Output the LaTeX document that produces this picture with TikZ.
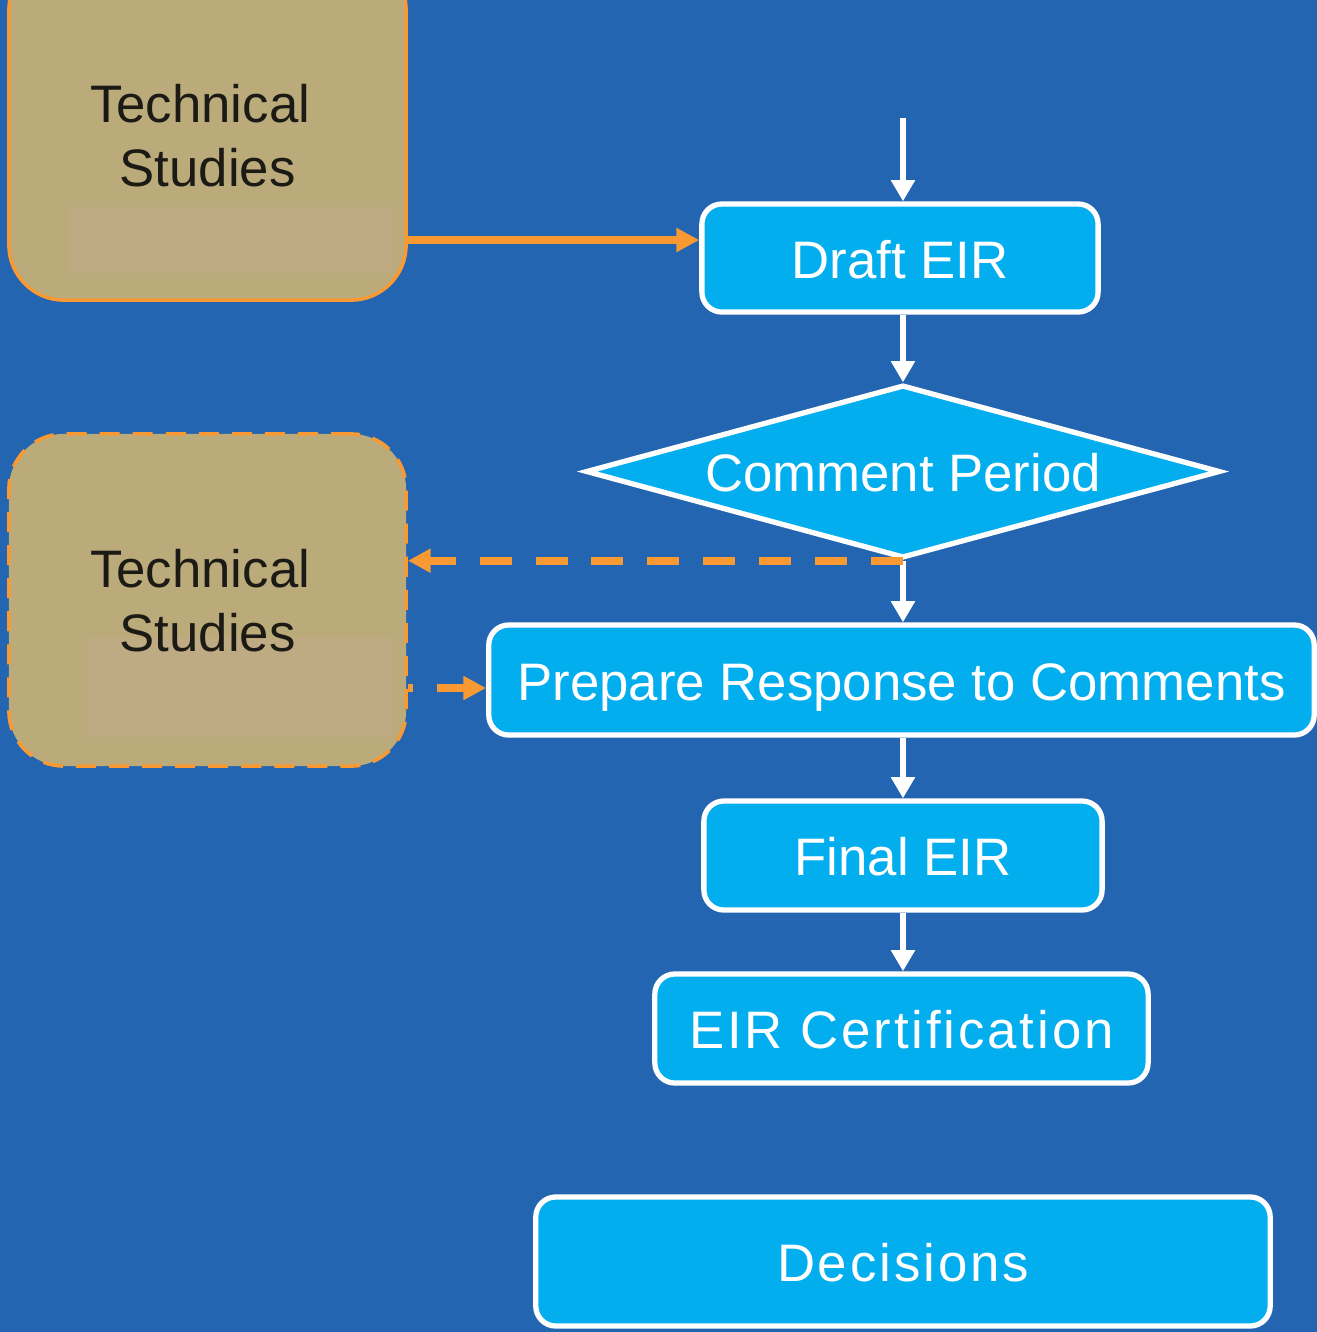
\documentclass[tikz,border=0pt]{standalone}
\usepackage{fontspec}
\setmainfont{Liberation Sans}
\newfontfamily\spacedfont[LetterSpace=5.5]{Liberation Sans}
\usetikzlibrary{shapes.geometric,arrows.meta}

\definecolor{bgblue}{RGB}{35,101,176}
\definecolor{boxcyan}{RGB}{3,174,239}
\definecolor{studytan}{RGB}{187,171,123}
\definecolor{studylight}{RGB}{191,171,131}
\definecolor{studyink}{RGB}{28,26,20}
\definecolor{flow}{RGB}{248,153,51}

\begin{document}
\begin{tikzpicture}[x=0.01cm,y=-0.01cm,
   every node/.style={font=\fontsize{15}{18.2}\selectfont},
   stepbox/.style={draw=white,line width=1.5pt,fill=boxcyan,text=white,
      rounded corners=0.2cm,inner sep=0pt,text height=11.4pt,text depth=0pt},
   studybox/.style={draw=flow,fill=studytan,rounded corners=0.55cm,inner sep=0pt},
   studytext/.style={text=studyink,align=center,inner sep=0pt},
   flowline/.style={draw,white,line width=1.6pt,-{Triangle[length=6pt,width=6.5pt]}},
   studyline/.style={draw,flow,line width=2.2pt,-{Triangle[length=6.5pt,width=6.5pt]}},
   dashline/.style={studyline,dash pattern=on 9.1pt off 6.8pt}]
   \path[use as bounding box,fill=bgblue] (0,0) rectangle (1317,1332);
   \clip (0,0) rectangle (1317,1332);

   % technical studies, before and after comments
   \node[studybox,line width=1pt,minimum width=3.97cm,minimum height=3.45cm] (tech1) at (207.5,127.5) {};
   \fill[studylight] (70,207) rectangle (393,273);
   \node[studytext] (tech1txt) at (207.5,136) {Technical\rule{0.28em}{0pt}\\Studies};
   \node[studybox,line width=1pt,dash pattern=on 5.7pt off 3.7pt,
      minimum width=3.97cm,minimum height=3.32cm] (tech2) at (207.5,600) {};
   \fill[studylight] (87,638) rectangle (393,737);
   \node[studytext] (tech2txt) at (207.5,600.5) {Technical\rule{0.28em}{0pt}\\Studies};

   % main process
   \coordinate (start) at (903,118);
   \node[stepbox,minimum width=3.96cm,minimum height=1.08cm] (draft) at (900,258) {Draft EIR};
   \node[stepbox,shape=diamond,rounded corners=0pt,aspect=3.7,
      minimum width=6.34cm,minimum height=1.73cm] (cp) at (903,471.5) {Comment Period};
   \node[stepbox,minimum width=8.25cm,minimum height=1.10cm] (prep) at (901.5,680)
      {Prepare Response to Comments};
   \node[stepbox,minimum width=3.98cm,minimum height=1.09cm] (final) at (903,855.5) {Final EIR};
   \node[stepbox,minimum width=4.93cm,minimum height=1.09cm] (cert) at (901.5,1028.5)
      {\spacedfont EIR Certification};
   \node[stepbox,minimum width=7.34cm,minimum height=1.29cm] (decide) at (903,1261.5)
      {\spacedfont Decisions};

   \coordinate (row1) at (0,240);
   \coordinate (row2) at (0,688);

   \path
    (start) edge[flowline] (start |- draft.north)
    (draft.south -| cp.north) edge[flowline] (cp)
    (cp.south) edge[flowline] (cp.south |- prep.north)
    (final.north |- prep.south) edge[flowline] (final)
    (final) edge[flowline] (cert.north -| final.south);

   \path
    (tech1.east |- row1) edge[studyline] (draft.west |- row1)
    (cp.south) edge[dashline] (cp.south -| tech2.east)
    (tech2.east |- row2) edge[dashline,dash phase=7.7pt] (prep.west |- row2);
\end{tikzpicture}
\end{document}
